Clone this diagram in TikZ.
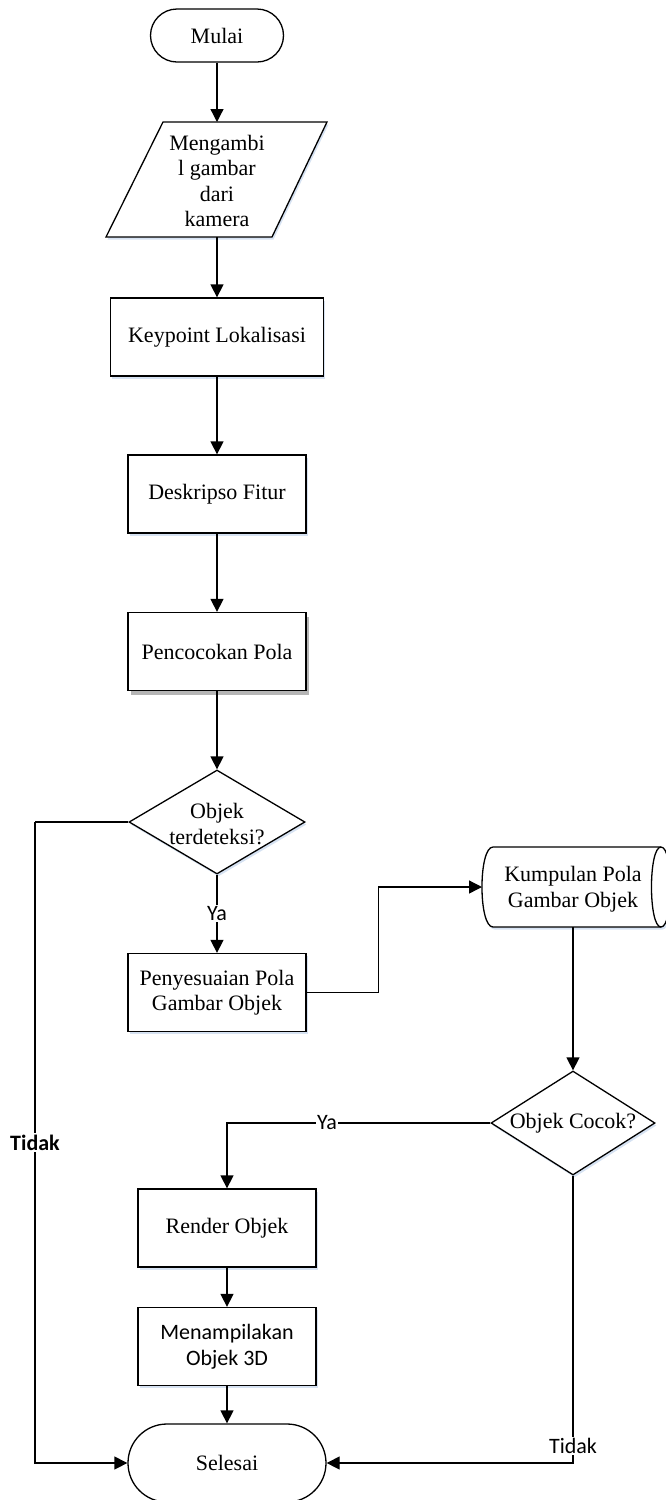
\documentclass[tikz,border=0pt]{standalone}
\usepackage{fontspec}
\setmainfont{Liberation Serif}
\newfontfamily\calibri{Carlito}
\usetikzlibrary{arrows.meta,shapes.geometric,shadows}
\definecolor{shadowblue}{RGB}{214,226,242}
\definecolor{shadowgray}{RGB}{150,150,150}
\begin{document}
\begin{tikzpicture}[x=1pt,y=-1pt,line width=1.3pt,
  >={Triangle[length=13pt,width=13pt]},
  lightshadow/.style={drop shadow={shadow xshift=1.5pt,shadow yshift=-2.5pt,fill=shadowblue,opacity=1,draw=none}},
  darkshadow/.style={drop shadow={shadow xshift=3pt,shadow yshift=-4pt,fill=shadowgray,opacity=0.7,draw=none}},
  serif22/.style={font={\fontsize{22}{25.5}\selectfont}},
  box/.style={draw,fill=white,rectangle,minimum width=178pt,minimum height=78pt,inner sep=0pt,align=center,serif22},
  terminal/.style={draw,fill=white,rectangle,inner sep=0pt,align=center,serif22},
  decision/.style={draw,fill=white,shape=diamond,inner sep=0pt,lightshadow},
  txt/.style={inner sep=0pt,align=center,serif22},
  lbl/.style={fill=white,inner sep=1.5pt,font={\calibri\fontsize{22}{26}\selectfont}},
  shapeline/.style={draw,fill=white}
]
\useasboundingbox (0,0) rectangle (666,1500);

% Start
\node[terminal,rounded corners=26.5pt,minimum width=133pt,minimum height=53pt] (mulai) at (217,35.5) {Mulai};

% Input parallelogram
\path[shapeline,lightshadow] (163,122) -- (327,122) -- (272,237) -- (106,237) -- cycle;
\node[txt] (input) at (217,181) {Mengambi\\l gambar\\dari\\kamera};
\coordinate (inTop) at (217,122);
\coordinate (inBot) at (217,237);

% Process boxes
\node[box,lightshadow,minimum width=213pt] (kp) at (217,337) {Keypoint Lokalisasi};
\node[box,lightshadow] (desk) at (217,494) {Deskripso Fitur};
\node[box,darkshadow] (cocok) at (217,651.5) {Pencocokan Pola};

% Decision 1
\node[decision,minimum width=176pt,minimum height=104pt] (d1) at (217,822) {};
\node[txt] (d1t) at (217,824) {Objek\\terdeteksi?};

\node[box,lightshadow] (sesuai) at (217,992.5) {Penyesuaian Pola\\Gambar Objek};

% Stored data cylinder
\path[shapeline,lightshadow] (493,847) -- (661,847) .. controls (673.7,847) and (673.7,927) .. (661,927) -- (493,927) .. controls (478.3,927) and (478.3,847) .. (493,847) -- cycle;
\draw (661,847) .. controls (648.3,847) and (648.3,927) .. (661,927);
\node[txt] (kump) at (573,889) {Kumpulan Pola\\Gambar Objek};
\coordinate (kumpW) at (482,887);
\coordinate (kumpS) at (573,927);

% Decision 2
\node[decision,minimum width=164pt,minimum height=104pt] (d2) at (573,1123) {};
\node[txt] (d2t) at (573,1123) {Objek Cocok?};

\node[box,lightshadow] (render) at (227,1228) {Render Objek};
\node[box,lightshadow,font={\calibri\fontsize{22}{26}\selectfont}] (tampil) at (227,1346.5) {Menampilakan\\Objek 3D};

% End
\node[terminal,rounded corners=39pt,minimum width=198pt,minimum height=78pt] (selesai) at (227,1463) {Selesai};

% Connectors
\draw[->] (mulai) -- (inTop);
\draw[->] (inBot) -- (kp);
\draw[->] (kp) -- (desk);
\draw[->] (desk) -- (cocok);
\draw[->] (cocok) -- (d1.north);
\draw[->] (d1.south) -- node[lbl] {Ya} (sesuai);
\draw[->] (sesuai.east) -- ++(72,0) |- (kumpW);
\draw[->] (kumpS) -- (d2.north);
\draw[->] (d2.west) -| node[lbl,pos=0.31] {Ya} (render.north);
\draw[->] (render) -- (tampil);
\draw[->] (tampil) -- (selesai);
\coordinate (leftTop) at (35,822);
\draw (d1.west) -- (leftTop);
\draw[->] (leftTop) |- node[lbl,pos=0.25,font={\calibri\bfseries\fontsize{22}{26}\selectfont}] {Tidak} (selesai.west);
\draw[->] (d2.south) |- node[lbl,pos=0.47] {Tidak} (selesai.east);
\end{tikzpicture}
\end{document}
